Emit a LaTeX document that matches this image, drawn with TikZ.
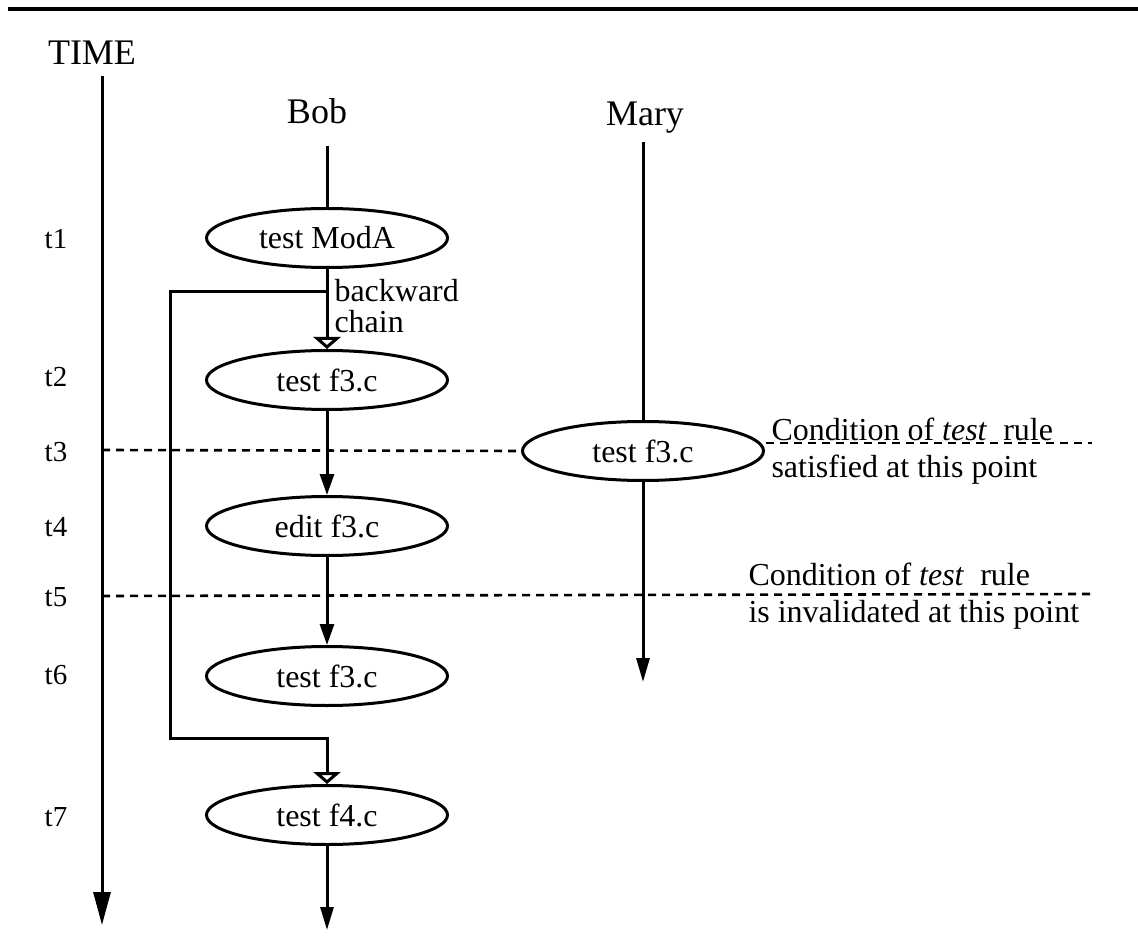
\documentclass[tikz,border=0pt]{standalone}
\usepackage{fontspec}
\setmainfont{Liberation Serif}
\usetikzlibrary{arrows.meta,shapes.geometric}

\begin{document}
\begin{tikzpicture}[x=1pt,y=-1pt,
  line width=3pt,
  proc/.style={draw, ellipse, minimum width=241pt, minimum height=59pt,
    inner sep=0pt, font=\fontsize{32}{36}\selectfont},
  head/.style={font=\fontsize{36}{40}\selectfont, inner sep=0pt, anchor=base},
  tick/.style={font=\fontsize{29}{32}\selectfont, inner sep=0pt},
  note/.style={font=\fontsize{32}{37}\selectfont, inner sep=0pt, align=left, anchor=west},
  flow/.style={-{Triangle[length=21pt,width=14pt]}},
  chainarrow/.style={-{Triangle[open,length=12pt,width=27pt]}},
  cutline/.style={line width=2.6pt, dash pattern=on 8pt off 6pt}
]
\useasboundingbox (0,0) rectangle (1138,949);

% rule across the top
\coordinate (ra) at (8,9);
\coordinate (rb) at (1138,9);
\draw[line width=3.2pt] (ra) -- (rb);

% time axis
\node[head] (time) at (92,65) {TIME};
\coordinate (ttop) at (102,76);
\coordinate (tbot) at (102,925);
\draw[-{Triangle[length=33pt,width=17pt]}] (ttop) -- (tbot);

\node[tick] (l1) at (56,239) {t1};
\node[tick] (l2) at (56,377) {t2};
\node[tick] (l3) at (56,452) {t3};
\node[tick] (l4) at (56,527) {t4};
\node[tick] (l5) at (56,597) {t5};
\node[tick] (l6) at (56,675) {t6};
\node[tick] (l7) at (56,817) {t7};

% Bob's column
\node[head] (bob) at (317,124) {Bob};
\coordinate (btop) at (327,146);
\node[proc] (e1) at (327,238) {test ModA};
\node[proc] (e2) at (327,380) {test f3.c};
\node[proc] (e3) at (327,526) {edit f3.c};
\node[proc] (e4) at (327,676) {test f3.c};
\node[proc] (e5) at (327,815) {test f4.c};
\coordinate (bend) at (327,930);

\draw (btop) -- (e1.north);
\draw[chainarrow] (e1.south) -- (e2.north);
\draw[flow] (e2.south) -- (e3.north);
\draw[flow] (e3.south) -- (e4.north);
\draw[-{Triangle[length=23pt,width=13pt]}] (e5.south) -- (bend);

% backward chain branch
\coordinate (b1) at (327,292);
\coordinate (b2) at (170,292);
\coordinate (b3) at (170,738);
\coordinate (b4) at (327,738);
\draw[chainarrow] (b1) -- (b2) -- (b3) -- (b4) -- (e5.north);
\node[font=\fontsize{32}{31}\selectfont, inner sep=0pt, align=left, anchor=west]
  (bc) at (333,306) {backward\\chain};

% Mary's column
\node[head] (mary) at (645,126) {Mary};
\coordinate (mtop) at (643,142);
\node[proc] (m) at (643,451) {test f3.c};
\coordinate (mend) at (643,682);
\draw (mtop) -- (m.north);
\draw[-{Triangle[length=24pt,width=13pt]}] (m.south) -- (mend);

% instants t3 and t5
\coordinate (t3a) at (102,450);
\coordinate (t3b) at (766,443);
\coordinate (t3c) at (1092,443);
\draw[cutline] (t3a) -- (m.west);
\draw[cutline] (t3b) -- (t3c);
\node[note] (n3) at (770,451) {Condition of \textit{test}\enspace rule\\satisfied at this point};

\coordinate (t5a) at (102,596);
\coordinate (t5b) at (1092,594);
\draw[cutline] (t5a) -- (t5b);
\node[note] (n5) at (747,596) {Condition of \textit{test}\enspace rule\\is invalidated at this point};
\end{tikzpicture}
\end{document}
